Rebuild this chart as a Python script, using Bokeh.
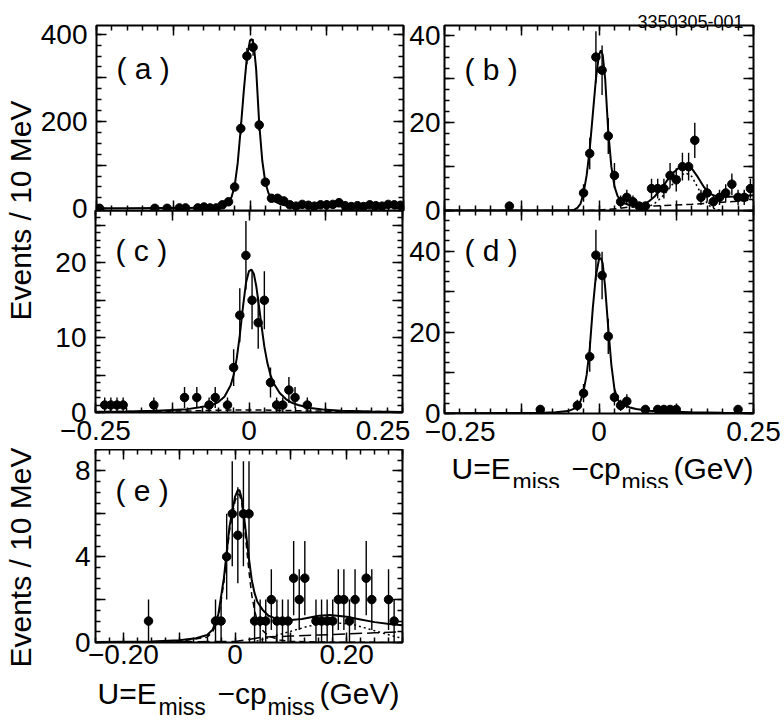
import numpy as np
from bokeh.plotting import figure
from bokeh.models import Range1d, FixedTicker, LinearAxis, Label, ColumnDataSource
from bokeh.layouts import row, column
from bokeh.embed import file_html
from bokeh.resources import INLINE

FONT = "Liberation Sans"
NB = "\u00a0"

# ---------------- data ----------------
# (a)
a_x = [-0.245, -0.155, -0.135, -0.115, -0.105, -0.085, -0.075, -0.065, -0.055, -0.045,
       -0.035, -0.025, -0.015, -0.005, 0.005, 0.015, 0.025, 0.035, 0.045, 0.055,
       0.065, 0.075, 0.085, 0.095, 0.105, 0.115, 0.125, 0.135, 0.145, 0.155,
       0.165, 0.175, 0.185, 0.195, 0.205, 0.215, 0.225, 0.235, 0.245]
a_y = [1, 1, 1, 2, 2, 2, 4, 2, 2, 9,
       16, 50, 184, 350, 370, 192, 61, 24, 24, 18,
       9, 6, 10, 8, 6, 9, 9, 10, 14, 7,
       5, 7, 5, 9, 7, 6, 10, 9, 8]
a_fit_x = [-0.25, -0.2, -0.15, -0.1, -0.07, -0.05, -0.04, -0.035, -0.03, -0.025,
           -0.02, -0.015, -0.01, -0.005, 0.0, 0.003, 0.006, 0.01, 0.015, 0.02,
           0.025, 0.03, 0.035, 0.04, 0.05, 0.06, 0.08, 0.1, 0.15, 0.2, 0.25]
a_fit_y = [1, 1, 1.5, 2, 3, 5, 9, 15, 27, 52,
           105, 185, 272, 348, 386, 389, 378, 320, 195, 110,
           60, 36, 24, 17, 10, 7, 6, 6, 6, 6, 6]

# (b)
b_x = [-0.145, -0.025, -0.015, -0.005, 0.005, 0.015, 0.025, 0.035, 0.045, 0.055,
       0.065, 0.075, 0.085, 0.095, 0.105, 0.115, 0.125, 0.135, 0.145, 0.155,
       0.165, 0.175, 0.185, 0.195, 0.205, 0.215, 0.225, 0.235, 0.245]
b_y = [1, 4, 13, 35, 32, 17, 8, 2, 3, 2,
       1, 1, 5, 5, 5, 8, 7, 10, 10, 16,
       3, 4, 2, 3, 4, 6, 3, 3, 5]
b_fit_x = [-0.25, -0.05, -0.04, -0.035, -0.03, -0.025, -0.02, -0.015, -0.01, -0.005,
           0.0, 0.003, 0.006, 0.01, 0.015, 0.02, 0.025, 0.03, 0.035, 0.04,
           0.05, 0.06, 0.07, 0.08, 0.09, 0.1, 0.11, 0.12, 0.13, 0.14,
           0.15, 0.16, 0.17, 0.18, 0.19, 0.2, 0.22, 0.25]
b_fit_y = [0, 0, 0.2, 0.6, 1.5, 4, 8, 14, 22, 30,
           35.5, 36.5, 35.5, 30, 18, 10, 5.5, 3.3, 2.3, 1.7,
           1.2, 1.0, 1.2, 2.0, 3.2, 4.8, 6.8, 8.6, 9.8, 10.3,
           9.6, 7.6, 5.3, 3.8, 3.2, 3.1, 3.2, 3.5]
b_dot_x = [0.06, 0.07, 0.08, 0.09, 0.1, 0.11, 0.12, 0.13, 0.14, 0.15, 0.16, 0.17, 0.18, 0.19, 0.2]
b_dot_y = [0, 0.3, 0.8, 1.6, 2.8, 4.4, 6.2, 7.8, 8.6, 7.8, 5.2, 2.5, 0.9, 0.2, 0]
b_dash_x = [-0.25, -0.02, 0.0, 0.03, 0.05, 0.1, 0.15, 0.2, 0.25]
b_dash_y = [0, 0, 0.1, 0.4, 0.8, 1.1, 1.4, 1.9, 2.4]

# (c)
c_x = [-0.235, -0.225, -0.215, -0.205, -0.155, -0.105, -0.085, -0.065, -0.055, -0.035,
       -0.025, -0.015, -0.005, 0.005, 0.015, 0.025, 0.035, 0.045, 0.055, 0.065,
       0.075, 0.095]
c_y = [1, 1, 1, 1, 1, 2, 2, 1, 2, 1,
       6, 13, 21, 15, 12, 15, 4, 1, 1, 3,
       2, 1]
c_fit_x = [-0.25, -0.2, -0.15, -0.1, -0.08, -0.06, -0.05, -0.04, -0.03, -0.025,
           -0.02, -0.015, -0.01, -0.005, 0.0, 0.004, 0.008, 0.012, 0.016, 0.02,
           0.025, 0.03, 0.035, 0.04, 0.05, 0.06, 0.07, 0.08, 0.1, 0.12,
           0.15, 0.2, 0.25]
c_fit_y = [0.1, 0.15, 0.25, 0.45, 0.7, 1.0, 1.4, 2.1, 3.6, 5.0,
           7.2, 10.3, 14.0, 17.3, 18.9, 19.1, 18.5, 16.8, 14.4, 11.8,
           8.8, 6.6, 5.0, 3.9, 2.6, 1.8, 1.3, 1.0, 0.6, 0.4,
           0.25, 0.12, 0.08]
c_bkg_x = [-0.25, -0.1, -0.05, 0.0, 0.05, 0.1, 0.25]
c_bkg_y = [0.1, 0.2, 0.3, 0.35, 0.3, 0.2, 0.1]

# (d)
d_x = [-0.095, -0.035, -0.025, -0.015, -0.005, 0.005, 0.015, 0.025, 0.035, 0.045,
       0.075, 0.095, 0.105, 0.115, 0.125, 0.225]
d_y = [1, 2, 5, 14, 39, 34, 19, 4, 2, 3,
       1, 1, 1, 1, 1, 1]
d_fit_x = [-0.25, -0.15, -0.1, -0.07, -0.05, -0.04, -0.03, -0.025, -0.02, -0.015,
           -0.01, -0.005, 0.0, 0.003, 0.006, 0.01, 0.015, 0.02, 0.025, 0.03,
           0.035, 0.04, 0.05, 0.06, 0.08, 0.1, 0.15, 0.2, 0.25]
d_fit_y = [0.05, 0.1, 0.15, 0.3, 0.6, 1.2, 3.0, 5.5, 9.5, 16,
           26, 34, 38, 38.3, 37, 31, 21, 12, 6, 3.5,
           2.5, 2.0, 1.5, 1.1, 0.7, 0.5, 0.3, 0.2, 0.15]

# (e)
e_x = [-0.155, -0.035, -0.025, -0.015, -0.005, 0.005, 0.015, 0.025, 0.035, 0.045,
       0.055, 0.065, 0.075, 0.085, 0.095, 0.105, 0.115, 0.125, 0.145, 0.155,
       0.165, 0.175, 0.185, 0.195, 0.205, 0.215, 0.235, 0.245, 0.275, 0.285]
e_y = [1, 1, 1, 4, 6, 5, 6, 6, 1, 1,
       1, 2, 1, 1, 1, 3, 2, 3, 1, 1,
       1, 1, 2, 2, 1, 2, 3, 2, 2, 1]
e_fit_x = [-0.25, -0.15, -0.1, -0.07, -0.05, -0.04, -0.03, -0.02, -0.01, 0.0,
           0.005, 0.008, 0.012, 0.016, 0.02, 0.025, 0.03, 0.035, 0.04, 0.05,
           0.06, 0.07, 0.08, 0.1, 0.12, 0.15, 0.17, 0.2, 0.22, 0.25,
           0.28, 0.3]
e_fit_y = [0.02, 0.05, 0.1, 0.2, 0.35, 0.6, 1.3, 3.0, 5.4, 6.8,
           7.1, 7.1, 6.7, 5.9, 5.0, 3.9, 2.9, 2.3, 1.9, 1.5,
           1.25, 1.15, 1.05, 1.05, 1.1, 1.25, 1.28, 1.2, 1.1, 0.95,
           0.85, 0.8]
e_sig_x = [-0.25, -0.1, -0.05, -0.04, -0.03, -0.02, -0.01, 0.0, 0.005, 0.008,
           0.012, 0.016, 0.02, 0.025, 0.03, 0.035, 0.04, 0.05, 0.06, 0.08,
           0.1, 0.15, 0.3]
e_sig_y = [0.0, 0.05, 0.25, 0.5, 1.1, 2.8, 5.2, 6.6, 6.9, 6.9,
           6.5, 5.6, 4.6, 3.3, 2.2, 1.5, 1.0, 0.55, 0.3, 0.12,
           0.05, 0.02, 0.0]
e_bk1_x = [0.03, 0.05, 0.07, 0.09, 0.11, 0.13, 0.15, 0.17, 0.19, 0.21, 0.23, 0.25, 0.27, 0.29, 0.3]
e_bk1_y = [0, 0.15, 0.3, 0.45, 0.6, 0.75, 0.85, 0.9, 0.9, 0.85, 0.7, 0.55, 0.4, 0.25, 0.2]
e_bk2_x = [-0.25, 0.0, 0.02, 0.05, 0.1, 0.15, 0.2, 0.25, 0.3]
e_bk2_y = [0, 0.05, 0.12, 0.25, 0.3, 0.35, 0.4, 0.45, 0.5]

# ---------------- tick labels and texts ----------------
x_major_ad = [-0.25, -0.125, 0.0, 0.125, 0.25]
x_labels_c = {-0.25: "\u22120.25", 0.0: "0", 0.25: "0.25" + NB * 5}
x_labels_d = {-0.25: NB * 4 + "\u22120.25", 0.0: "0", 0.25: "0.25"}
x_major_e = [-0.2, -0.1, 0.0, 0.1, 0.2, 0.3]
x_labels_e = {-0.2: "\u22120.20", 0.0: "0", 0.2: "0.20"}

y_major_a = [0, 100, 200, 300, 400]
y_labels_a = {0: "0", 200: "200", 400: "400"}
y_major_b = [0, 10, 20, 30, 40]
y_labels_b = {0: "0", 20: "20", 40: "40"}
y_major_c = [0, 5, 10, 15, 20, 25]
y_labels_c = {0: "0", 10: "10", 20: "20"}
y_major_d = [0, 10, 20, 30, 40, 50]
y_labels_d = {0: "0", 20: "20", 40: "40"}
y_major_e = [0, 2, 4, 6, 8]
y_labels_e = {0: "0", 4: "4", 8: "8"}

y_title = "Events / 10 MeV"
x_title_parts = [("U=E", 0, "30px", 0), ("miss", 61, "23px", -13), ("\u2212cp", 120, "30px", 0),
                 ("miss", 170, "23px", -13), ("(GeV)", 222, "30px", 0)]
tag_text = "3350305-001"


def minor_ticks(lo, hi, step):
    n = int(round((hi - lo) / step))
    return [round(lo + i * step, 6) for i in range(n + 1)]


def style_axis(ax, major, minor, labels, show, standoff):
    ax.ticker = FixedTicker(ticks=[float(t) for t in major], minor_ticks=[float(t) for t in minor])
    ax.axis_line_color = None
    ax.major_tick_in = 10
    ax.major_tick_out = 0
    ax.minor_tick_in = 5
    ax.minor_tick_out = 0
    ax.major_tick_line_width = 1.5
    ax.minor_tick_line_width = 1.5
    ax.major_tick_line_color = "black"
    ax.minor_tick_line_color = "black"
    if show:
        ax.major_label_overrides = {float(t): labels.get(t, "") for t in major}
        ax.major_label_text_font = FONT
        ax.major_label_text_font_size = "28px"
        ax.major_label_text_color = "black"
        ax.major_label_standoff = standoff
    else:
        ax.major_label_overrides = {float(t): "" for t in major}
        ax.major_label_text_font_size = "0px"
        ax.major_label_standoff = 0


def make_panel(xr, yr, fw, fh, borders, xmaj, xmin_, xlabels, show_x,
               ymaj, ymin_, ylabels, ystand, margin=None):
    kw = dict(frame_width=fw, frame_height=fh, x_range=Range1d(*xr), y_range=Range1d(*yr),
              output_backend="svg", toolbar_location=None, frame_align=False,
              min_border_left=borders[0], min_border_right=borders[1],
              min_border_top=borders[2], min_border_bottom=borders[3],
              background_fill_color=None, border_fill_color=None,
              outline_line_color="black", outline_line_width=2)
    if margin is not None:
        kw["margin"] = margin
    p = figure(**kw)
    p.xgrid.visible = False
    p.ygrid.visible = False
    p.add_layout(LinearAxis(), "above")
    p.add_layout(LinearAxis(), "right")
    for ax in p.below:
        style_axis(ax, xmaj, xmin_, xlabels, show_x, 2)
    for ax in p.above:
        style_axis(ax, xmaj, xmin_, xlabels, False, 0)
    for ax in p.left:
        style_axis(ax, ymaj, ymin_, ylabels, True, ystand)
    for ax in p.right:
        style_axis(ax, ymaj, ymin_, ylabels, False, 0)
    return p


def text_fig(w, h, margin=None):
    kw = dict(width=w, height=h, x_range=Range1d(0, 1), y_range=Range1d(0, 1),
              output_backend="svg", toolbar_location=None, x_axis_type=None, y_axis_type=None,
              frame_align=False,
              min_border_left=0, min_border_right=0, min_border_top=0, min_border_bottom=0,
              outline_line_color=None, background_fill_color=None, border_fill_color=None)
    if margin is not None:
        kw["margin"] = margin
    return figure(**kw)


def add_points(p, xs, ys):
    xs = np.asarray(xs, dtype=float)
    ys = np.asarray(ys, dtype=float)
    err = np.sqrt(ys)
    src = ColumnDataSource(dict(x=xs, y=ys, lo=ys - err, hi=ys + err))
    p.segment(x0="x", y0="lo", x1="x", y1="hi", source=src, line_color="black", line_width=1.4)
    p.scatter("x", "y", source=src, size=8.5, fill_color="black", line_color="black")


def add_curve(p, xs, ys, dash="solid", width=2.0):
    p.line(xs, ys, line_color="black", line_width=width, line_dash=dash)


def add_tag(p, text, fh, below_top):
    p.add_layout(Label(x=20, y=fh - below_top, x_units="screen", y_units="screen", text=text,
                       text_font=FONT, text_font_size="30px", text_color="black",
                       text_baseline="alphabetic", text_align="left"))


def add_xtitle(p, x0, ybig):
    for txt, dx, fs, dy in x_title_parts:
        p.add_layout(Label(x=x0 + dx, y=ybig + dy, x_units="screen", y_units="screen", text=txt,
                           text_font=FONT, text_font_size=fs, text_color="black",
                           text_baseline="alphabetic", text_align="left"))


def add_ytitle(p, xc, yc):
    p.add_layout(Label(x=xc, y=yc, x_units="screen", y_units="screen", text=y_title,
                       angle=np.pi / 2, text_font=FONT, text_font_size="30px", text_color="black",
                       text_align="center", text_baseline="middle"))


XR = (-0.25, 0.25)
xminor_ad = minor_ticks(-0.25, 0.25, 0.025)

# left column: (a), (c), (e)   [border: left, right, top, bottom]
pa = make_panel(XR, (-4, 420), 307, 185, (58, 48, 22, 16), x_major_ad, xminor_ad, {}, False,
                y_major_a, minor_ticks(0, 420, 25), y_labels_a, 9)
add_curve(pa, a_fit_x, a_fit_y)
add_points(pa, a_x, a_y)
add_tag(pa, "( a )", 185, 43)

pc = make_panel(XR, (0, 27), 307, 202, (58, 48, 0, 37), x_major_ad, xminor_ad, x_labels_c, True,
                y_major_c, minor_ticks(0, 27, 1), y_labels_c, 9, margin=(-16, 0, 0, 0))
add_curve(pc, c_bkg_x, c_bkg_y, dash="6 4", width=1.5)
add_curve(pc, c_fit_x, c_fit_y)
add_points(pc, c_x, c_y)
add_tag(pc, "( c )", 202, 40)

pe = make_panel((-0.25, 0.30), (0, 9), 307, 193, (58, 48, 0, 37), x_major_e,
                minor_ticks(-0.25, 0.30, 0.025), x_labels_e, True,
                y_major_e, minor_ticks(0, 9, 0.5), y_labels_e, 5)
add_curve(pe, e_bk2_x, e_bk2_y, dash="12 5", width=1.5)
add_curve(pe, e_bk1_x, e_bk1_y, dash="2 3", width=1.5)
add_curve(pe, e_sig_x, e_sig_y, dash="6 4", width=1.5)
add_curve(pe, e_fit_x, e_fit_y)
add_points(pe, e_x, e_y)
add_tag(pe, "( e )", 193, 41)

# right column: (b), (d)
pb = make_panel(XR, (0, 42.2), 309, 185, (53, 29, 22, 16), x_major_ad, xminor_ad, {}, False,
                y_major_b, minor_ticks(0, 42.5, 2.5), y_labels_b, 4, margin=(-29, 0, 0, 0))
add_curve(pb, b_dash_x, b_dash_y, dash="7 4", width=1.5)
add_curve(pb, b_dot_x, b_dot_y, dash="2 3", width=1.5)
add_curve(pb, b_fit_x, b_fit_y)
add_points(pb, b_x, b_y)
add_tag(pb, "( b )", 185, 44)

pd_ = make_panel(XR, (0, 50), 309, 203, (53, 29, 0, 37), x_major_ad, xminor_ad, x_labels_d, True,
                 y_major_d, minor_ticks(0, 50, 2.5), y_labels_d, 4, margin=(-16, 0, 0, 0))
add_curve(pd_, d_fit_x, d_fit_y)
add_points(pd_, d_x, d_y)
add_tag(pd_, "( d )", 203, 40)

# text strips outside the frames
strip = text_fig(34, 712)
add_ytitle(strip, 17, 505)
add_ytitle(strip, 17, 158)
title_e = text_fig(413, 58, margin=(-16, 0, 0, 0))
add_xtitle(title_e, 60, 28)
title_d = text_fig(391, 50, margin=(-12, 0, 0, 0))
add_xtitle(title_d, 60, 20)
tag_fig = text_fig(391, 29)
tag_fig.add_layout(Label(x=352, y=11, x_units="screen", y_units="screen", text=tag_text,
                         text_font=FONT, text_font_size="18px", text_color="black",
                         text_align="right", text_baseline="alphabetic"))

left = column(pa, pc, pe, title_e)
right = column(tag_fig, pb, pd_, title_d, margin=(0, 0, 0, -60))
layout = row(strip, left, right, margin=(3, 0, 0, 3))

open("out.html", "w").write(file_html(layout, INLINE, title="U distributions"))
